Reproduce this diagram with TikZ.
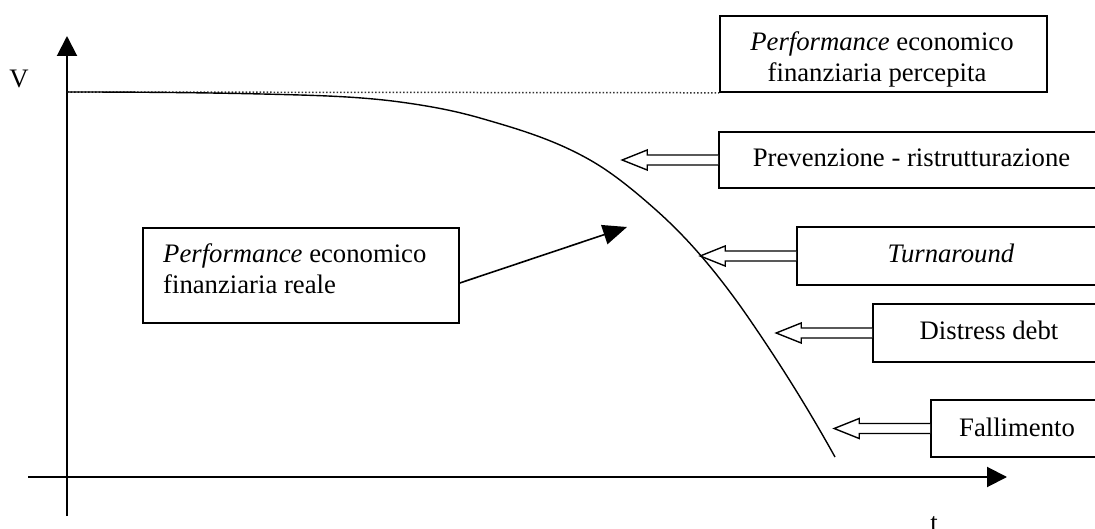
\documentclass[tikz,border=0pt]{standalone}
\usepackage{fontspec}
\setmainfont{Liberation Serif}
\usetikzlibrary{arrows.meta}
\begin{document}
\begin{tikzpicture}[x=1pt,y=-1pt,
  lbl/.style={font=\fontsize{26.7}{31}\selectfont, inner sep=0pt, anchor=base},
  frame/.style={draw, line width=1.6pt, inner sep=0pt},
  axis/.style={line width=2pt, -{Triangle[length=20pt,width=20pt]}},
  hollow/.style={draw, line width=1.4pt, fill=white, line join=miter},
  pointer/.style={line width=1.6pt, -{Triangle[length=24pt,width=20pt]}},
  curve/.style={line width=1.4pt},
  level/.style={line width=1.5pt, black!80, dash pattern=on 1.5pt off 2pt}
]
\useasboundingbox (0,0) rectangle (1095,529);
\clip (0,0) rectangle (1095,529);

% axes
\coordinate (ybot) at (67,516);
\coordinate (ytop) at (67,36);
\coordinate (xl) at (28,477);
\coordinate (xr) at (1007,477);
\draw[axis] (ybot) -- (ytop);
\draw[axis] (xl) -- (xr);
\node[lbl] (vlab) at (19,88) {V};
\node[lbl] (tlab) at (934,531) {t};

% perceived performance box and level line
\node[frame, minimum width=327pt, minimum height=76pt] (b1) at (883.5,54) {};
\begin{scope}
  \clip (b1.south west) rectangle (b1.north east);
  \node[lbl] (p1) at (882,51) {\textit{Performance} economico};
  \node[lbl] (p2) at (877,82) {finanziaria percepita};
\end{scope}
\coordinate (v0) at (67,92);
\draw[level] (v0) -- (b1.south west);

% phase boxes
\node[frame, minimum width=385pt, minimum height=56pt] (b2) at (911.5,160) {};
\node[lbl] (t2) at (911.5,167) {Prevenzione - ristrutturazione};
\node[frame, minimum width=308pt, minimum height=58pt] (b3) at (951,256) {};
\node[lbl] (t3) at (951,263) {\textit{Turnaround}};
\node[frame, minimum width=232pt, minimum height=58pt] (b4) at (989,333) {};
\node[lbl] (t4) at (989,340) {Distress debt};
\node[frame, minimum width=172pt, minimum height=57pt] (b5) at (1017,428.5) {};
\node[lbl] (t5) at (1017,436) {Fallimento};

% hollow arrows pointing at the curve
\foreach \b in {b2,b3,b4,b5}{
  \draw[hollow] (\b.west) ++(0,-5) -- ++(-71,0) -- ++(0,-5) -- ++(-25,10)
    -- ++(25,10) -- ++(0,-5) -- ++(71,0);
}

% real performance curve (piecewise cubic, continuous slope)
\draw[curve] (v0)
  .. controls (144.7,92) and (222.3,92.7) .. (300,95)
  .. controls (333.3,96) and (366.7,97.5) .. (400,102)
  .. controls (426.7,105.6) and (453.3,110.3) .. (480,118)
  .. controls (516.7,128.6) and (553.3,139.1) .. (590,160)
  .. controls (612,172.5) and (634,190.4) .. (656,210)
  .. controls (671.3,223.6) and (686.7,239.1) .. (702,257)
  .. controls (718,275.7) and (734,296.6) .. (750,320)
  .. controls (778.3,361.3) and (806.7,406) .. (835,457);

% real performance box
\node[frame, minimum width=316pt, minimum height=95pt] (b6) at (301,275.5) {};
\node[lbl, anchor=base west] (r1) at (163,263) {\textit{Performance} economico};
\node[lbl, anchor=base west] (r2) at (163,294) {finanziaria reale};
\coordinate (rtip) at (627,227);
\draw[pointer] ([yshift=-7.5pt]b6.east) -- (rtip);
\end{tikzpicture}
\end{document}
